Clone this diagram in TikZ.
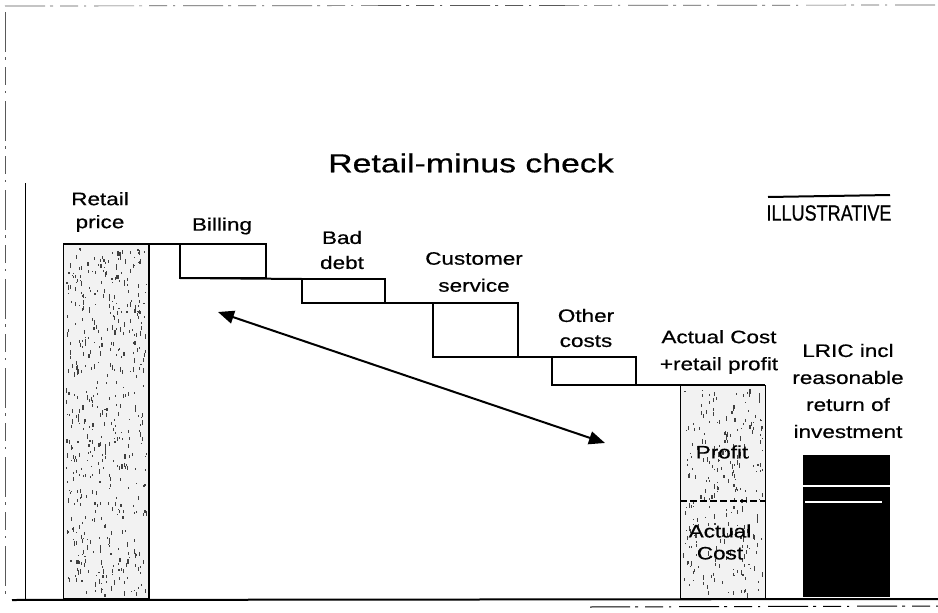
\documentclass[tikz,border=0pt]{standalone}
\usepackage{fontspec}
\setmainfont{Liberation Sans}
\newfontfamily\lblfont[FakeStretch=1.25,FakeBold=0.6]{Liberation Sans}
\newfontfamily\ttlfont[FakeStretch=1.3,FakeBold=0.6]{Liberation Sans}
\newfontfamily\illfont[FakeStretch=0.82,FakeBold=0.6]{Liberation Sans}
\usetikzlibrary{arrows.meta}
\begin{document}
\begin{tikzpicture}[x=1pt,y=-1pt,
  lbl/.style={font=\lblfont\fontsize{18}{25}\selectfont, align=center, inner sep=0pt},
  inlbl/.style={font=\lblfont\fontsize{18}{22}\selectfont, align=center, inner sep=0pt},
  costbox/.style={draw, line width=1.3pt},
  stair/.style={line width=2pt},
  speck/.style={draw, line width=1pt, fill=gray!10},
  dot/.style={fill=black!75},
  frame/.style={line width=0.7pt, gray!70!black, dash pattern=on 40pt off 5pt on 3pt off 7pt on 18pt off 6pt on 2pt off 8pt},
  dblarrow/.style={{Triangle[length=16pt,width=13pt]}-{Triangle[length=16pt,width=13pt]}, line width=2pt}]
\useasboundingbox (0,0) rectangle (938,613);
\pgfmathsetseed{4242}
% scanned frame
\draw[frame] (5,6) -- (938,5);
\draw[frame] (5,12) -- (5,600);
\draw[line width=0.8pt] (25,183) -- (25,600);
\draw[line width=2pt] (12,600) -- (938,599);
\draw[frame, black, line width=1pt] (590,607) -- (938,606);
% title
\node[font=\ttlfont\fontsize{26}{30}\selectfont] (title) at (471,163) {Retail-minus check};
% ILLUSTRATIVE
\node[font=\illfont\fontsize{22}{24}\selectfont, inner sep=0pt] (illus) at (829,213) {ILLUSTRATIVE};
\draw[line width=2pt] (768,197) -- (890,195);
% retail price bar
\draw[speck] (63,244) rectangle (149,598);
\foreach \i in {1,...,520} {
  \pgfmathsetmacro\xx{66+rnd*80}
  \pgfmathsetmacro\yy{248+rnd*346}
  \pgfmathsetmacro\hh{1+rnd*4}
  \fill[dot] (\xx,\yy) rectangle ++(1.1,\hh);
}
\draw[line width=2pt] (149,244) -- (149,598);
\draw[stair] (63,244) -- (180,244);
\node[lbl, font=\lblfont\fontsize{18}{23}\selectfont] (retail) at (100,212) {Retail\\price};
% billing
\draw[costbox] (180,244) rectangle (266,278);
\draw[stair] (180,278) -- (302,279);
\node[lbl] (billing) at (222,226) {Billing};
% bad debt
\draw[costbox] (302,279) rectangle (385,303);
\draw[stair] (302,303) -- (433,303);
\node[lbl] (baddebt) at (342,250) {Bad\\debt};
% customer service
\draw[costbox] (433,303) rectangle (518,357);
\draw[stair] (433,357) -- (552,357);
\node[lbl, font=\lblfont\fontsize{18}{27}\selectfont] (custserv) at (474,272) {Customer\\service};
% other costs
\draw[costbox] (552,357) rectangle (636,385);
\draw[stair] (552,385) -- (765,385);
\node[lbl] (other) at (586,328) {Other\\costs};
% actual cost + retail profit bar
\draw[speck] (680,385) rectangle (765,598);
\foreach \i in {1,...,260} {
  \pgfmathsetmacro\xx{683+rnd*79}
  \pgfmathsetmacro\yy{389+rnd*205}
  \pgfmathsetmacro\hh{1+rnd*4}
  \fill[dot] (\xx,\yy) rectangle ++(1.1,\hh);
}
\draw[line width=2pt, dash pattern=on 7pt off 3pt] (680,501) -- (765,501);
\node[lbl, font=\lblfont\fontsize{18}{27}\selectfont] (actlbl) at (719,352) {Actual Cost\\+retail profit};
\node[inlbl] (profit) at (722,452) {Profit};
\node[inlbl] (actcost) at (720,542) {Actual\\Cost};
% LRIC bar
\fill[black] (803,455) rectangle (890,597);
\draw[white, line width=1.3pt] (803,486) -- (890,486);
\draw[white, line width=1.3pt] (805,502) -- (882,502);
\node[lbl, font=\lblfont\fontsize{18}{27}\selectfont] (lric) at (848,391) {LRIC incl\\reasonable\\return of\\investment};
% double arrow
\coordinate (a1) at (218,312);
\coordinate (a2) at (605,443);
\draw[dblarrow] (a1) -- (a2);
\end{tikzpicture}
\end{document}
